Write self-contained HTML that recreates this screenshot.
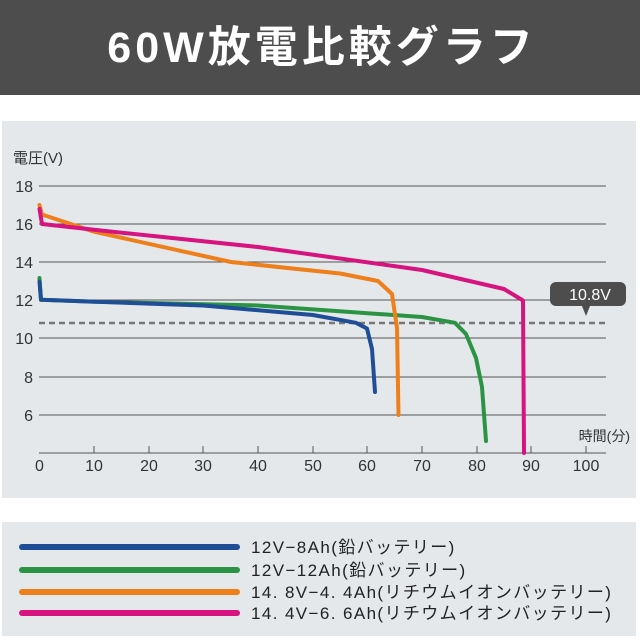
<!DOCTYPE html>
<html><head><meta charset="utf-8"><style>
body{margin:0;width:640px;height:640px;background:#fff;overflow:hidden;font-family:"Liberation Sans","Noto Sans CJK JP",sans-serif}
</style></head><body>
<svg width="640" height="640" xmlns="http://www.w3.org/2000/svg" style="position:absolute;left:0;top:0">
<rect x="0" y="0" width="640" height="95" fill="#4d4d4d"/>
<text x="322" y="62" text-anchor="middle" fill="#fff" font-size="43" font-weight="bold" font-family="Liberation Sans,Noto Sans CJK JP,sans-serif" letter-spacing="4">60W放電比較グラフ</text>
<rect x="2" y="121" width="634" height="377" fill="#e4e8eb"/>
<rect x="2" y="522" width="634" height="114" fill="#e4e8eb"/>
<g font-family="Liberation Sans,Noto Sans CJK JP,sans-serif" fill="#333">
<text x="13" y="163" font-size="15">電圧(V)</text>
<g font-size="16" text-anchor="end">
<text x="33" y="192">18</text><text x="33" y="230">16</text><text x="33" y="268">14</text>
<text x="33" y="306">12</text><text x="33" y="344">10</text><text x="33" y="383">8</text><text x="33" y="421">6</text>
</g>
<text x="630" y="441" font-size="14" text-anchor="end">時間(分)</text>
<g font-size="16" text-anchor="middle">
<text x="39.5" y="471">0</text><text x="94" y="471">10</text><text x="149" y="471">20</text><text x="203" y="471">30</text><text x="258" y="471">40</text><text x="313" y="471">50</text><text x="367" y="471">60</text><text x="422" y="471">70</text><text x="477" y="471">80</text><text x="531" y="471">90</text><text x="586" y="471">100</text>
</g>
</g>
<g stroke="#555" stroke-width="1">
<line x1="39" y1="186" x2="606" y2="186"/><line x1="39" y1="224" x2="606" y2="224"/><line x1="39" y1="262" x2="606" y2="262"/><line x1="39" y1="300" x2="606" y2="300"/><line x1="39" y1="338" x2="606" y2="338"/><line x1="39" y1="377" x2="606" y2="377"/><line x1="39" y1="415" x2="606" y2="415"/>
<line x1="39" y1="453" x2="606" y2="453"/>
<path d="M94 453v-7M149 453v-7M203 453v-7M258 453v-7M313 453v-7M367 453v-7M422 453v-7M477 453v-7M531 453v-7M586 453v-7"/>
</g>
<line x1="39" y1="323" x2="606" y2="323" stroke="#777" stroke-width="2.5" stroke-dasharray="6,4"/>
<path d="M556 282h64a6 6 0 0 1 6 6v12a6 6 0 0 1-6 6h-30l-4 10l-4-10h-26a6 6 0 0 1-6-6v-12a6 6 0 0 1 6-6z" fill="#4d4d4d"/>
<text x="590" y="300" text-anchor="middle" fill="#fff" font-size="16" font-family="Liberation Sans,sans-serif">10.8V</text>
<g fill="none" stroke-width="4" stroke-linejoin="round" stroke-linecap="round">
<path stroke="#2a9444" d="M39.5 278L41 299.8L94 301.7L258 305.5L422 317L455 322.8L466 334L476 358L482 387L486 441"/>
<path stroke="#1f4e96" d="M39.5 281.8L41 299.8L203 305.5L313 315L356 322.8L367 328.5L372 349L375 392"/>
<path stroke="#ef7f1a" d="M39.5 205L42 214.5L94 231.7L231 262L340 273.5L378 281L392 294L397 328L398.5 415"/>
<path stroke="#d6137f" d="M39.5 209L42 224L94 229.8L258 247L422 270L504 289L523 300.5L524 453"/>
</g>
<g stroke-width="6" stroke-linecap="round">
<line x1="22" y1="547" x2="237" y2="547" stroke="#1f4e96"/>
<line x1="22" y1="570" x2="237" y2="570" stroke="#2a9444"/>
<line x1="22" y1="592" x2="237" y2="592" stroke="#ef7f1a"/>
<line x1="22" y1="613" x2="237" y2="613" stroke="#d6137f"/>
</g>
<g font-size="17" fill="#222" font-family="Liberation Sans,Noto Sans CJK JP,sans-serif" letter-spacing="1.4">
<text x="251" y="553">12V−8Ah(鉛バッテリー)</text>
<text x="251" y="576">12V−12Ah(鉛バッテリー)</text>
<text x="251" y="598">14. 8V−4. 4Ah(リチウムイオンバッテリー)</text>
<text x="251" y="619">14. 4V−6. 6Ah(リチウムイオンバッテリー)</text>
</g>
</svg>
</body></html>
